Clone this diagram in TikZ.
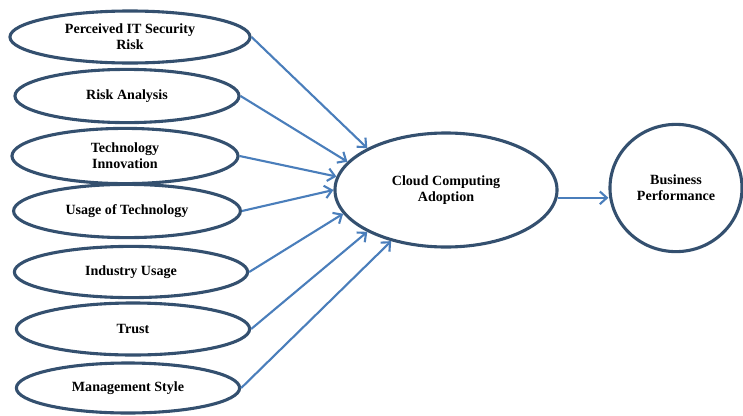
\documentclass[tikz,border=0pt]{standalone}
\usepackage{fontspec}
\setmainfont{Liberation Serif}
\usetikzlibrary{shapes.geometric,arrows.meta}
\definecolor{rimblue}{HTML}{34506F}
\definecolor{edgeblue}{HTML}{4A7EBB}
\begin{document}
\begin{tikzpicture}[x=0.025cm,y=-0.025cm,
    factor/.style={ellipse,draw=rimblue,line width=2.2pt,inner sep=0pt,align=center,
      font=\bfseries\fontsize{10}{11.5}\selectfont},
    flow/.style={draw=edgeblue,line width=1.5pt,-{Straight Barb[length=5pt,width=9pt]}}]
  \useasboundingbox (0,0) rectangle (743,415);
  % Factors:
  \node[factor,minimum width=6cm,minimum height=1.3cm] (risk) at (130,37) {Perceived IT Security\\Risk};
  \node[factor,minimum width=5.6cm,minimum height=1.33cm] (analysis) at (127,96) {Risk Analysis};
  \node[factor,minimum width=5.65cm,minimum height=1.38cm] (innov) at (125,156) {Technology\\Innovation};
  \node[factor,minimum width=5.67cm,minimum height=1.33cm] (usage) at (127,211) {Usage of Technology};
  \node[factor,minimum width=5.83cm,minimum height=1.28cm] (industry) at (131,272) {Industry Usage};
  \node[factor,minimum width=5.83cm,minimum height=1.3cm] (trust) at (133,329) {Trust};
  \node[factor,minimum width=5.58cm,minimum height=1.25cm] (mgmt) at (128,388) {Management Style};
  % Outcomes:
  \node[factor,minimum width=5.55cm,minimum height=2.85cm] (cloud) at (446,190) {Cloud Computing\\Adoption};
  \node[factor,minimum width=3.3cm,minimum height=3.18cm] (perf) at (676,188) {Business\\Performance};
  %
  % Edges:
  \draw[flow] (risk.east) -- (cloud.152);
  \draw[flow] (analysis.east) -- (cloud.164);
  \draw[flow] (innov.east) -- (cloud.173);
  \draw[flow] (usage.east) -- (cloud.180);
  \draw[flow] (industry.east) -- (cloud.193);
  \draw[flow] (trust.east) -- (cloud.208);
  \draw[flow] (mgmt.east) -- (cloud.223);
  \draw[flow] (cloud.-4) -- (cloud.-4 -| perf.west);
\end{tikzpicture}
\end{document}
